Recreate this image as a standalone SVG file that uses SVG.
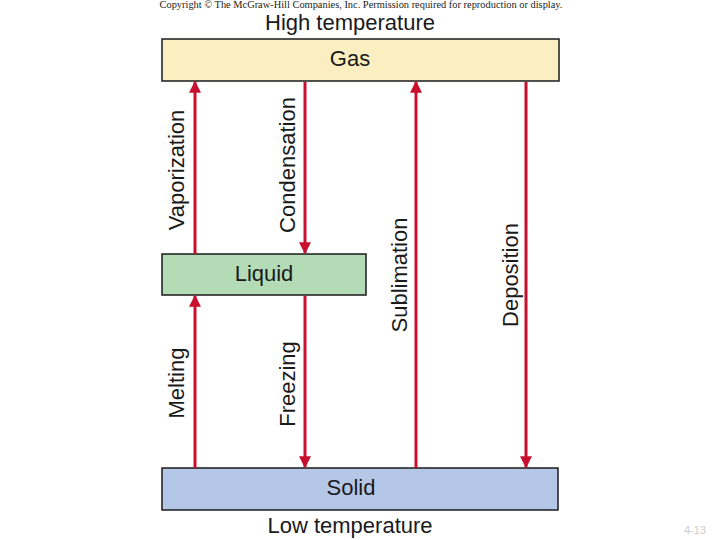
<svg xmlns="http://www.w3.org/2000/svg" width="720" height="540" viewBox="0 0 720 540">
<style>
.box{stroke:#1a1a1a;stroke-width:1.5}
.t{font-family:"Liberation Sans",Arial,sans-serif;fill:#1a1a1a;font-size:22px;text-anchor:middle}
.c{stroke:#c8102e;stroke-width:3;fill:none}
</style>
<defs>
<marker id="ah" viewBox="0 0 10 10" refX="9" refY="5" markerWidth="5" markerHeight="4" orient="auto" markerUnits="strokeWidth">
<path d="M0,0 L10,5 L0,10 z" fill="#c8102e"/>
</marker>
</defs>
<rect width="720" height="540" fill="#fff"/>
<text x="361" y="8" font-family="Liberation Serif,serif" font-size="10.4" text-anchor="middle" fill="#222">Copyright © The McGraw-Hill Companies, Inc. Permission required for reproduction or display.</text>
<text class="t" x="350" y="30">High temperature</text>
<text class="t" x="350" y="533">Low temperature</text>
<g id="gas"><rect class="box" x="162" y="39" width="397" height="42" fill="#fbefc1"/><text class="t" x="350" y="66">Gas</text></g>
<g id="liquid"><rect class="box" x="162" y="254" width="204" height="41" fill="#b3dbb5"/><text class="t" x="264" y="281">Liquid</text></g>
<g id="solid"><rect class="box" x="162" y="468" width="396" height="42" fill="#b5c7e6"/><text class="t" x="351" y="495">Solid</text></g>
<g id="connectors">
<line class="c" x1="195" y1="254" x2="195" y2="82" marker-end="url(#ah)"/>
<line class="c" x1="305" y1="82" x2="305" y2="253" marker-end="url(#ah)"/>
<line class="c" x1="416" y1="468" x2="416" y2="82" marker-end="url(#ah)"/>
<line class="c" x1="526" y1="82" x2="526" y2="467" marker-end="url(#ah)"/>
<line class="c" x1="195" y1="468" x2="195" y2="296" marker-end="url(#ah)"/>
<line class="c" x1="305" y1="296" x2="305" y2="467" marker-end="url(#ah)"/>
<text class="t" transform="translate(184,170) rotate(-90)">Vaporization</text>
<text class="t" transform="translate(295,165) rotate(-90)">Condensation</text>
<text class="t" transform="translate(407,275) rotate(-90)">Sublimation</text>
<text class="t" transform="translate(518,275) rotate(-90)">Deposition</text>
<text class="t" transform="translate(184,383) rotate(-90)">Melting</text>
<text class="t" transform="translate(295,384) rotate(-90)">Freezing</text>
</g>
<text x="695" y="534" font-family="Liberation Sans,sans-serif" font-size="11" fill="#ccc" text-anchor="middle">4-13</text>
</svg>
